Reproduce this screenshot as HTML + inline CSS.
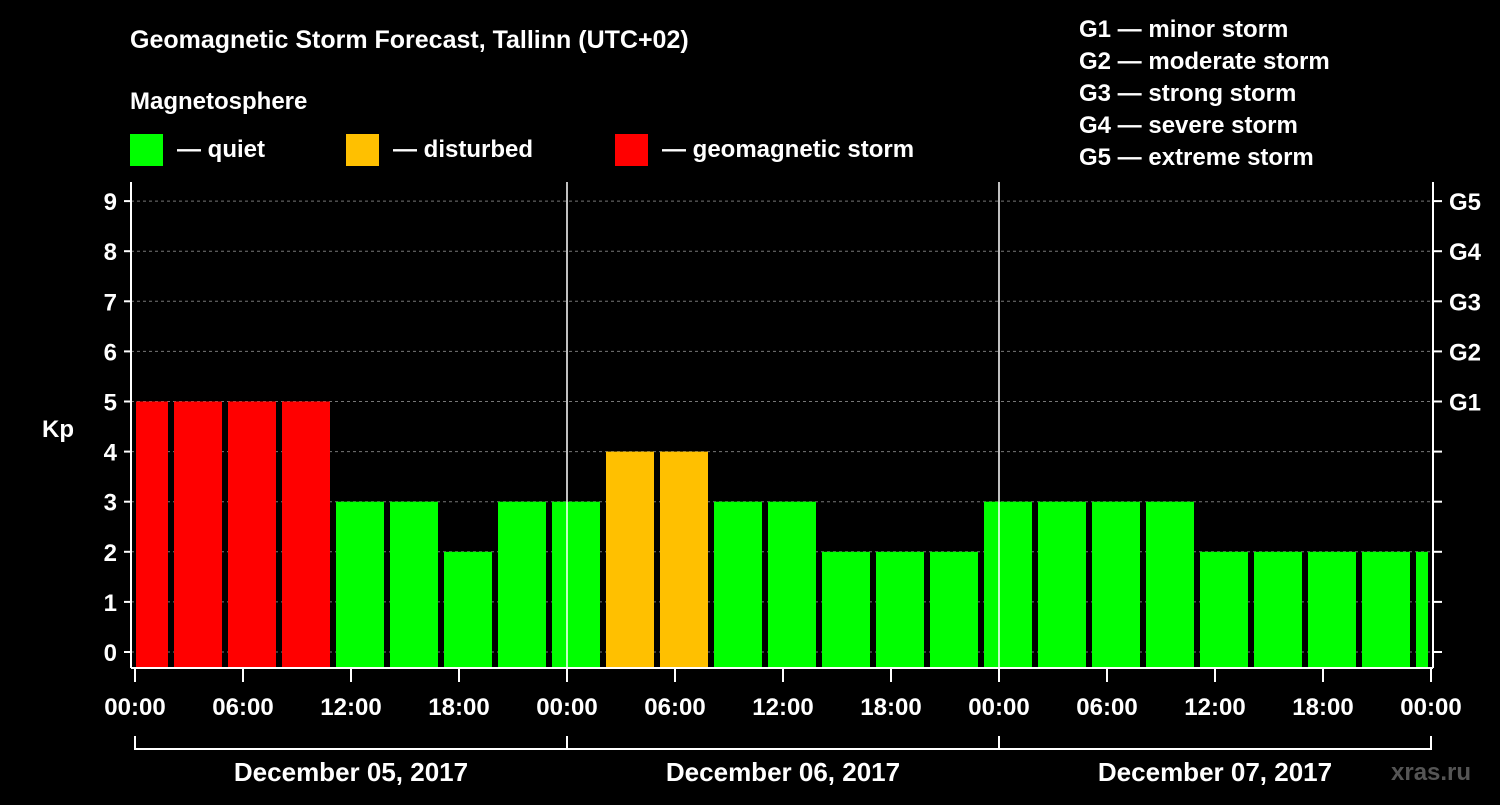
<!DOCTYPE html>
<html><head><meta charset="utf-8"><style>
body{margin:0;background:#000;width:1500px;height:800px;overflow:hidden}
svg text{font-family:"Liberation Sans",Arial,sans-serif;font-weight:bold;fill:#fff}
</style></head><body>
<svg id="c" width="1500" height="800" xmlns="http://www.w3.org/2000/svg">
<rect width="1500" height="800" fill="#000"/>
<text x="130" y="48" font-size="25">Geomagnetic Storm Forecast, Tallinn (UTC+02)</text>
<text x="130" y="109" font-size="24">Magnetosphere</text>
<g><rect x="130" y="134" width="33" height="32" fill="#00ff00"/><text x="177" y="157" font-size="24">— quiet</text></g>
<g><rect x="346" y="134" width="33" height="32" fill="#ffc000"/><text x="393" y="157" font-size="24">— disturbed</text></g>
<g><rect x="615" y="134" width="33" height="32" fill="#ff0000"/><text x="662" y="157" font-size="24">— geomagnetic storm</text></g>
<g font-size="24">
<text x="1079" y="37">G1 — minor storm</text>
<text x="1079" y="69">G2 — moderate storm</text>
<text x="1079" y="101">G3 — strong storm</text>
<text x="1079" y="133">G4 — severe storm</text>
<text x="1079" y="165">G5 — extreme storm</text>
</g>
<g id="grid"></g><g id="bars"></g><g id="axes"></g>
<text x="1391" y="780" font-size="24" fill="#555" style="fill:#555">xras.ru</text>
</svg>
<script>
const kpValues=[5,5,5,5,3,3,2,3,3,4,4,3,3,2,2,2,3,3,3,3,2,2,2,2,2];
const startHour=-1;
const dayLabels=["December 05, 2017","December 06, 2017","December 07, 2017"];
const timeLabels=["00:00","06:00","12:00","18:00"];
const gLabels=["G1","G2","G3","G4","G5"];
const NS="http://www.w3.org/2000/svg";
const X0=135,PXH=18,Y0=652,PXK=50.1,L=131,R=1433,T=182,B=668;
const x=h=>X0+h*PXH, y=k=>Y0-k*PXK;
function mk(t,a,p){const e=document.createElementNS(NS,t);for(const k in a)e.setAttribute(k,a[k]);p.appendChild(e);return e;}
const grid=document.getElementById('grid'),bars=document.getElementById('bars'),axes=document.getElementById('axes');
for(let k=0;k<=9;k++){const l=mk('line',{x1:L,x2:R,y1:y(k),y2:y(k),stroke:'#777','stroke-dasharray':'3,3','stroke-width':1},grid);

}
const colorFor=v=>v>=5?'#ff0000':v>=4?'#ffc000':'#00ff00';
kpValues.forEach((v,i)=>{let a=x(startHour+i*3)+3,b=x(startHour+i*3+3)-3;a=Math.max(a,136);b=Math.min(b,1428);
const r=mk('rect',{x:a,y:y(v),width:b-a,height:B-y(v),fill:colorFor(v)},bars);

});
[[L,T,L,B],[R,T,R,B],[L,B,R,B]].forEach(c=>{const l=mk('line',{x1:c[0],y1:c[1],x2:c[2],y2:c[3],stroke:'#fff','stroke-width':2},axes);

});
for(let d=1;d<dayLabels.length;d++){const l=mk('line',{x1:x(d*24),x2:x(d*24),y1:T,y2:B,stroke:'#fff','stroke-width':1.5},axes);

}
for(let k=0;k<=9;k++){const l=mk('line',{x1:124,x2:L,y1:y(k),y2:y(k),stroke:'#fff','stroke-width':2},axes);


const t=mk('text',{x:117,y:y(k)+9,'font-size':24,'text-anchor':'end'},axes);t.textContent=k;


const r=mk('line',{x1:R,x2:1442,y1:y(k),y2:y(k),stroke:'#fff','stroke-width':2},axes);

}
gLabels.forEach((g,i)=>{const t=mk('text',{x:1449,y:y(5+i)+9,'font-size':24},axes);t.textContent=g;

});
const kp=mk('text',{x:42,y:437,'font-size':24},axes);kp.textContent='Kp';


for(let h=0;h<=dayLabels.length*24;h+=6){const l=mk('line',{x1:x(h),x2:x(h),y1:B,y2:682,stroke:'#fff','stroke-width':2},axes);


const t=mk('text',{x:x(h),y:715,'font-size':24,'text-anchor':'middle'},axes);t.textContent=timeLabels[(h/6)%4];

}
const br=mk('line',{x1:x(0),x2:x(dayLabels.length*24),y1:749,y2:749,stroke:'#fff','stroke-width':2},axes);


for(let d=0;d<=dayLabels.length;d++){const l=mk('line',{x1:x(d*24),x2:x(d*24),y1:736,y2:750,stroke:'#fff','stroke-width':2},axes);

}
dayLabels.forEach((s,d)=>{const t=mk('text',{x:x(d*24+12),y:781,'font-size':26,'text-anchor':'middle'},axes);t.textContent=s;

});
</script>
</body></html>
